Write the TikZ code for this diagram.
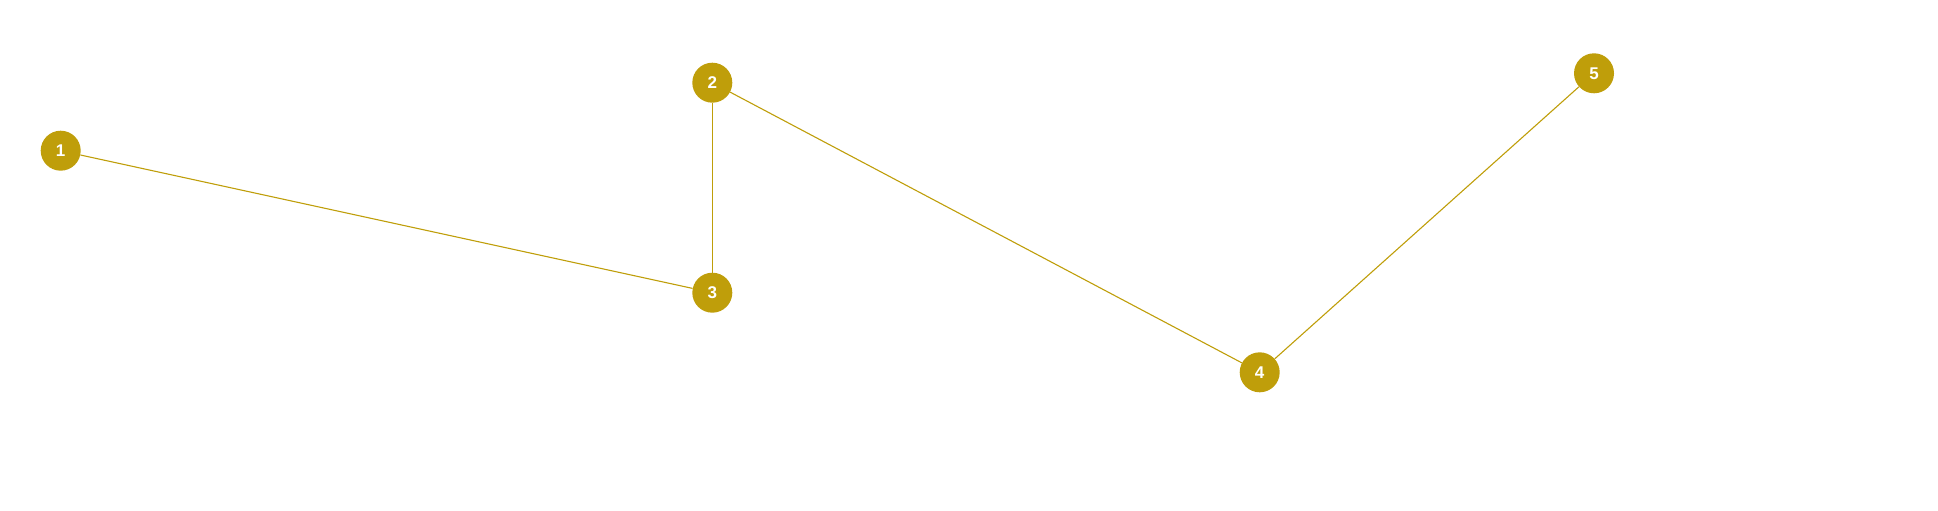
\documentclass[tikz,border=0pt]{standalone}
\usepackage{fontspec}
\setmainfont{Liberation Sans}
\definecolor{gold}{RGB}{191,158,10}
\begin{document}
\begin{tikzpicture}[x=1pt,y=-1pt,
  vert/.style={circle,fill=gold,minimum size=40pt,inner sep=0pt,text=white,font=\fontsize{17}{17}\selectfont\bfseries},
  edge/.style={draw=gold,line width=1.1pt}]
\path[use as bounding box] (0,0) rectangle (1938,511);
\node[vert] (n1) at (60.7,150.7) {1};
\node[vert] (n2) at (712.3,82.7) {2};
\node[vert] (n3) at (712.3,292.7) {3};
\node[vert] (n4) at (1259.7,372.3) {4};
\node[vert] (n5) at (1594,73.3) {5};
\draw[edge] (n1) -- (n3);
\draw[edge] (n2) -- (n3);
\draw[edge] (n2) -- (n4);
\draw[edge] (n4) -- (n5);
\end{tikzpicture}
\end{document}
